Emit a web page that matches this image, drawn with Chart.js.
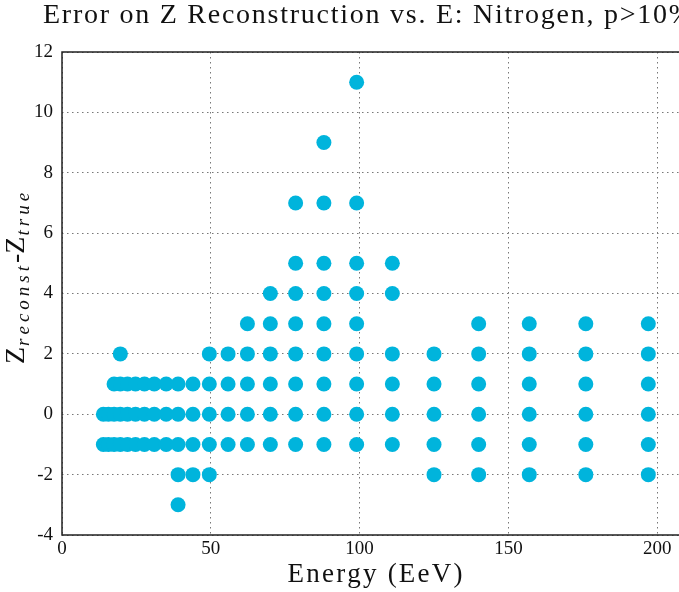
<!DOCTYPE html>
<html>
<head>
<meta charset="utf-8">
<script src="https://cdn.jsdelivr.net/npm/chart.js@4.4.1/dist/chart.umd.min.js"></script>
<style>
  html, body { margin: 0; padding: 0; background: #fff; overflow: hidden; }
  #wrap { width: 720px; height: 592px; }
</style>
</head>
<body>
<div id="wrap"><canvas id="myChart"></canvas></div>
<script>
// energies (EeV) of each column of points
const energies = [13.9, 15.6, 17.5, 19.6, 22.0, 24.7, 27.7, 31.0, 35.0, 39.0, 44.0, 49.5,
                  55.8, 62.3, 70.0, 78.5, 88.0, 99.0, 111, 125, 140, 157, 176, 197];
// Z_reconst - Z_true values seen at each energy
const dzByEnergy = [
    [0, -1],
    [0, -1],
    [1, 0, -1],
    [2, 1, 0, -1],
    [1, 0, -1],
    [1, 0, -1],
    [1, 0, -1],
    [1, 0, -1],
    [1, 0, -1],
    [1, 0, -1, -2, -3],
    [1, 0, -1, -2],
    [2, 1, 0, -1, -2],
    [2, 1, 0, -1],
    [3, 2, 1, 0, -1],
    [4, 3, 2, 1, 0, -1],
    [7, 5, 4, 3, 2, 1, 0, -1],
    [9, 7, 5, 4, 3, 2, 1, 0, -1],
    [11, 7, 5, 4, 3, 2, 1, 0, -1],
    [5, 4, 2, 1, 0, -1],
    [2, 1, 0, -1, -2],
    [3, 2, 1, 0, -1, -2],
    [3, 2, 1, 0, -1, -2],
    [3, 2, 1, 0, -1, -2],
    [3, 2, 1, 0, -1, -2]
];
const xTicks = [0, 50, 100, 150, 200];
const yTicks = [-4, -2, 0, 2, 4, 6, 8, 10, 12];
const titleText = 'Error on Z Reconstruction vs. E: Nitrogen, p>10%';
const xLabel = 'Energy (EeV)';

const points = [];
energies.forEach((e, i) => {
    dzByEnergy[i].forEach(dz => points.push({ x: e, y: dz }));
});

const serif = "'Liberation Serif', 'DejaVu Serif', serif";

function spaced(ctx, txt, x, y, spacing) {
    // draw text with manual letter spacing, returns end x
    for (const ch of txt) {
        ctx.fillText(ch, x, y);
        x += ctx.measureText(ch).width + spacing;
    }
    return x;
}
function spacedWidth(ctx, txt, spacing) {
    let w = 0;
    for (const ch of txt) w += ctx.measureText(ch).width + spacing;
    return w - spacing;
}

const framePlugin = {
    id: 'frame',
    beforeDatasetsDraw(chart) {
        const ctx = chart.ctx;
        const a = chart.chartArea;
        ctx.save();
        ctx.strokeStyle = '#222';
        ctx.lineWidth = 1.5;
        ctx.beginPath();
        ctx.moveTo(a.left, a.top);
        ctx.lineTo(a.right, a.top);
        ctx.lineTo(a.right, a.bottom);
        ctx.lineTo(a.left, a.bottom);
        ctx.closePath();
        ctx.stroke();
        ctx.restore();
    }
};

const textPlugin = {
    id: 'texts',
    afterDraw(chart) {
        const ctx = chart.ctx;
        ctx.save();
        ctx.fillStyle = '#111';
        ctx.textBaseline = 'alphabetic';
        ctx.textAlign = 'left';

        // title, spread so that "...p>10" ends where it does in the picture
        ctx.font = '28px ' + serif;
        const head = titleText.slice(0, titleText.length - 1);
        const natural = ctx.measureText(head).width;
        const sp = (624 - natural) / (head.length - 1);
        spaced(ctx, titleText, 43, 23, sp);

        // x label
        ctx.font = '27px ' + serif;
        const w = spacedWidth(ctx, xLabel, 2.2);
        spaced(ctx, xLabel, 375 - w / 2, 582, 2.2);

        // y label, rotated
        ctx.translate(24, 364);
        ctx.rotate(-Math.PI / 2);
        let x = 0;
        ctx.font = '28px ' + serif;
        x = spaced(ctx, 'Z', x, 0, 0);
        ctx.font = 'italic 19px ' + serif;
        x = spaced(ctx, 'reconst', x + 1, 5, 4);
        ctx.font = '28px ' + serif;
        x = spaced(ctx, '-', x - 1, 0, 0);
        x = spaced(ctx, 'Z', x, 0, 0);
        ctx.font = 'italic 19px ' + serif;
        spaced(ctx, 'true', x + 1, 5, 4);
        ctx.restore();
    }
};

const gridStyle = { color: '#777', lineWidth: 1, drawTicks: false };
const borderStyle = { display: false, dash: [1.5, 3.5] };

const ctx = document.getElementById('myChart').getContext('2d');
const myChart = new Chart(ctx, {
    type: 'scatter',
    data: {
        datasets: [
            {
                label: 'dZ',
                data: points,
                backgroundColor: '#00b4dc',
                borderWidth: 0,
                pointRadius: 7.5,
                pointHoverRadius: 7.5
            }
        ]
    },
    options: {
        responsive: true,
        maintainAspectRatio: false,
        animation: false,
        events: [],
        layout: { padding: { top: 52, right: 33, left: 0, bottom: 0 } },
        plugins: {
            legend: { display: false },
            title: { display: false },
            tooltip: { enabled: false }
        },
        scales: {
            x: {
                type: 'linear',
                min: 0,
                max: 210,
                afterFit(scale) { scale.height = 57; },
                afterBuildTicks(scale) { scale.ticks = xTicks.map(v => ({ value: v })); },
                border: borderStyle,
                grid: gridStyle,
                ticks: { color: '#111', padding: 3, font: { family: serif, size: 19 } }
            },
            y: {
                type: 'linear',
                min: -4,
                max: 12,
                afterFit(scale) { scale.width = 62; },
                afterBuildTicks(scale) { scale.ticks = yTicks.map(v => ({ value: v })); },
                border: borderStyle,
                grid: gridStyle,
                ticks: { color: '#111', padding: 9, font: { family: serif, size: 19 } }
            }
        }
    },
    plugins: [framePlugin, textPlugin]
});
</script>
</body>
</html>
